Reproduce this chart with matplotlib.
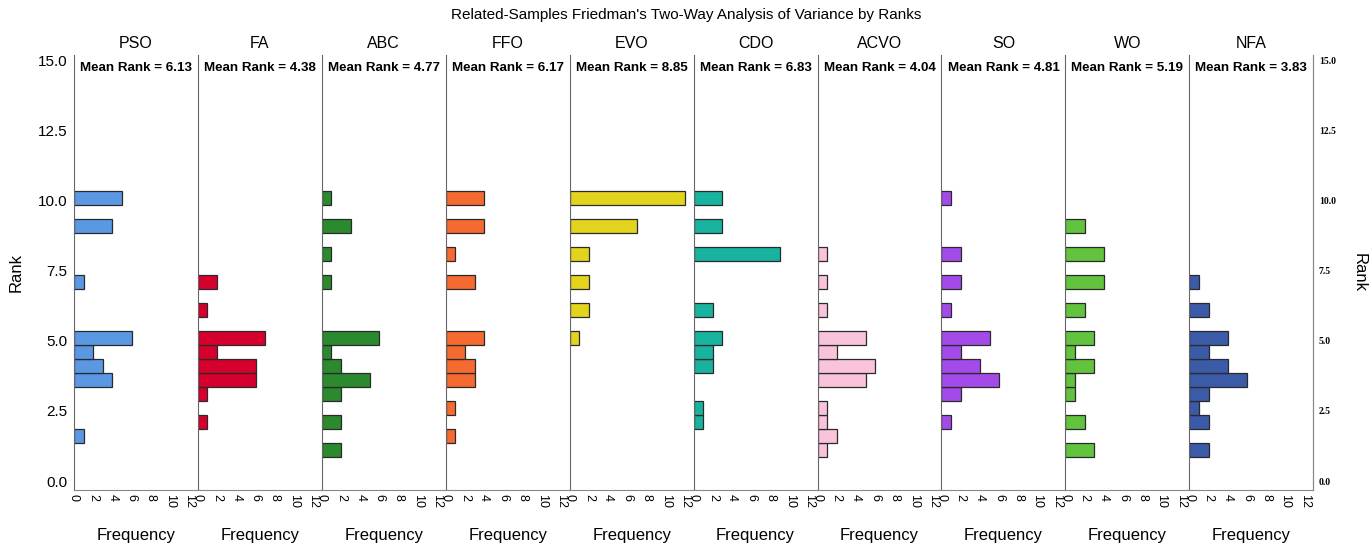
import numpy as np
import matplotlib
matplotlib.use("Agg")
import matplotlib.pyplot as plt

plt.rcParams['font.family'] = ['Liberation Sans', 'DejaVu Sans']

algorithms = ["PSO", "FA", "ABC", "FFO", "EVO", "CDO", "ACVO", "SO", "WO", "NFA"]
mean_ranks = ["6.13", "4.38", "4.77", "6.17", "8.85", "6.83", "4.04", "4.81", "5.19", "3.83"]
colors = ["#5A98E4", "#D6002E", "#2C8A2E", "#F46A30", "#E2D31C",
          "#18B39E", "#F9C3DC", "#A34BE8", "#62C33E", "#3B5BA9"]

# rank bins 1.0 .. 10.0 in steps of 0.5
rank_bins = [1.0, 1.5, 2.0, 2.5, 3.0, 3.5, 4.0, 4.5, 5.0, 5.5,
             6.0, 6.5, 7.0, 7.5, 8.0, 8.5, 9.0, 9.5, 10.0]

pso_freq  = [0, 1, 0, 0, 0, 4, 3, 2, 6, 0, 0, 0, 1, 0, 0, 0, 4, 0, 5]
fa_freq   = [0, 0, 1, 0, 1, 6, 6, 2, 7, 0, 1, 0, 2, 0, 0, 0, 0, 0, 0]
abc_freq  = [2, 0, 2, 0, 2, 5, 2, 1, 6, 0, 0, 0, 1, 0, 1, 0, 3, 0, 1]
ffo_freq  = [0, 1, 0, 1, 0, 3, 3, 2, 4, 0, 0, 0, 3, 0, 1, 0, 4, 0, 4]
evo_freq  = [0, 0, 0, 0, 0, 0, 0, 0, 1, 0, 2, 0, 2, 0, 2, 0, 7, 0, 12]
cdo_freq  = [0, 0, 1, 1, 0, 0, 2, 2, 3, 0, 2, 0, 0, 0, 9, 0, 3, 0, 3]
acvo_freq = [1, 2, 1, 1, 0, 5, 6, 2, 5, 0, 1, 0, 1, 0, 1, 0, 0, 0, 0]
so_freq   = [0, 0, 1, 0, 2, 6, 4, 2, 5, 0, 1, 0, 2, 0, 2, 0, 0, 0, 1]
wo_freq   = [3, 0, 2, 0, 1, 1, 3, 1, 3, 0, 2, 0, 4, 0, 4, 0, 2, 0, 0]
nfa_freq  = [2, 0, 2, 1, 2, 6, 4, 2, 4, 0, 2, 0, 1, 0, 0, 0, 0, 0, 0]

freqs = [pso_freq, fa_freq, abc_freq, ffo_freq, evo_freq,
         cdo_freq, acvo_freq, so_freq, wo_freq, nfa_freq]

rank_ticks = [0.0, 2.5, 5.0, 7.5, 10.0, 12.5, 15.0]
freq_ticks = [0, 2, 4, 6, 8, 10, 12]

fig, axes = plt.subplots(1, 10, figsize=(13.72, 5.48), dpi=100, sharey=True)
fig.subplots_adjust(left=0.0539, right=0.9572, bottom=0.1058, top=0.8996, wspace=0)

y = np.array(rank_bins) + 0.11
for i, ax in enumerate(axes):
    f = np.array(freqs[i])
    m = f > 0
    ax.barh(y[m], f[m], height=0.5, color=colors[i], edgecolor="#2a2a2a", linewidth=0.9)
    ax.set_xlim(0, 12.9)
    ax.set_ylim(-0.32, 15.2)
    ax.set_xticks(freq_ticks)
    ax.set_xticklabels([str(t) for t in freq_ticks], rotation=-90, fontsize=9)
    ax.tick_params(axis="both", length=0, pad=3)
    for s in ["top", "right"]:
        ax.spines[s].set_visible(False)
    ax.spines["left"].set_color("#666666")
    ax.spines["bottom"].set_color("#888888")
    ax.set_title(algorithms[i], fontsize=11.5, pad=5, fontweight="medium")
    ax.text(0.5, 0.97, "Mean Rank = " + mean_ranks[i], transform=ax.transAxes,
            ha="center", va="center", fontsize=9.6, fontweight="bold")
    ax.set_xlabel("Frequency", fontsize=12, labelpad=14)

axes[0].set_yticks(rank_ticks)
axes[0].set_yticklabels(["%.1f" % t for t in rank_ticks], fontsize=11)
axes[0].tick_params(axis="y", pad=5)
axes[0].set_ylabel("Rank", fontsize=12, labelpad=10)

last = axes[-1]
last.spines["right"].set_visible(True)
last.spines["right"].set_color("#888888")
rax = last.twinx()
rax.set_ylim(-0.32, 15.2)
rax.set_yticks(rank_ticks)
rax.set_yticklabels(["%.1f" % t for t in rank_ticks], fontsize=7,
                    fontweight="bold", family="Liberation Serif")
rax.tick_params(axis="y", length=0, pad=4)
for s in ["top", "left", "bottom"]:
    rax.spines[s].set_visible(False)
rax.spines["right"].set_color("#888888")
rax.set_ylabel("Rank", fontsize=12, rotation=-90, labelpad=22)

fig.suptitle("Related-Samples Friedman's Two-Way Analysis of Variance by Ranks",
             fontsize=11, y=0.985)

fig.savefig("out.png", dpi=100)
